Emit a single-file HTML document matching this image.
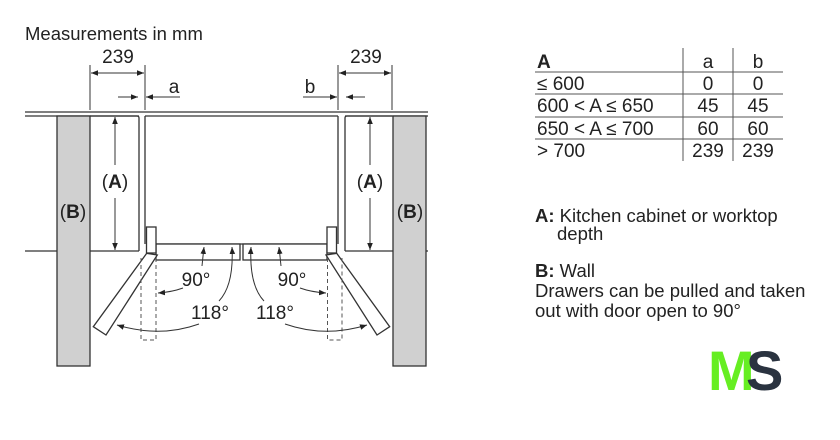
<!DOCTYPE html>
<html><head><meta charset="utf-8"><style>
html,body{margin:0;padding:0;background:#fff;}
svg{display:block;font-family:"Liberation Sans",Arial,sans-serif;}
</style></head><body>
<svg width="840" height="440" viewBox="0 0 840 440" xmlns="http://www.w3.org/2000/svg">
<defs>
<marker id="ar" viewBox="0 0 10 10" refX="10" refY="5" markerWidth="7" markerHeight="7" orient="auto-start-reverse" markerUnits="userSpaceOnUse"><path d="M0,1 L10,5 L0,9 z" fill="#222"/></marker>
</defs>
<rect width="840" height="440" fill="#fff"/>
<text x="25" y="40" font-size="18.5" fill="#222">Measurements in mm</text>
<g stroke="#333" stroke-width="1.3" fill="none">
<line x1="25" y1="112" x2="428" y2="112"/>
<line x1="25" y1="116" x2="139" y2="116"/>
<line x1="345" y1="116" x2="428" y2="116"/>
<line x1="145" y1="116" x2="338" y2="116"/>
<line x1="25" y1="251" x2="139" y2="251"/>
<line x1="345" y1="251" x2="428" y2="251"/>
<rect x="57" y="116" width="33" height="250" fill="#d0d0d0"/>
<rect x="393" y="116" width="33" height="250" fill="#d0d0d0"/>
<path d="M90,116 H137 Q139,116 139,118 V251"/>
<path d="M392,116 H347 Q345,116 345,118 V251"/>
<line x1="145" y1="116" x2="145" y2="244"/>
<line x1="338" y1="116" x2="338" y2="244"/>
<line x1="156" y1="244" x2="327" y2="244"/>
<rect x="156" y="244" width="84" height="16" fill="#fff"/>
<rect x="243" y="244" width="84" height="16" fill="#fff"/>
<rect x="146.5" y="227" width="9.5" height="26" fill="#fff"/>
<rect x="327" y="227" width="9.5" height="26" fill="#fff"/>
<polygon points="146.7,253.3 157.3,255 106,335 93.3,326.7" fill="#fff"/>
<polygon points="336.7,253.3 326,255 377,335 389.7,326.7" fill="#fff"/>
</g>
<g stroke="#555" stroke-width="1" stroke-dasharray="4,3" fill="none">
<path d="M141,258 V340 H156 V258"/>
<path d="M327.5,258 V340 H342 V258"/>
</g>
<g stroke="#333" stroke-width="1" fill="none">
<line x1="90" y1="65" x2="90" y2="110"/>
<line x1="145" y1="65" x2="145" y2="110"/>
<line x1="338" y1="65" x2="338" y2="110"/>
<line x1="392" y1="65" x2="392" y2="110"/>
<line x1="91" y1="73" x2="144" y2="73" marker-start="url(#ar)" marker-end="url(#ar)"/>
<line x1="339" y1="73" x2="391" y2="73" marker-start="url(#ar)" marker-end="url(#ar)"/>
<line x1="118" y1="97" x2="138" y2="97" marker-end="url(#ar)"/>
<line x1="180" y1="97" x2="146" y2="97" marker-end="url(#ar)"/>
<line x1="303" y1="97" x2="337" y2="97" marker-end="url(#ar)"/>
<line x1="365" y1="97" x2="346" y2="97" marker-end="url(#ar)"/>
<line x1="115" y1="117" x2="115" y2="165" marker-start="url(#ar)"/>
<line x1="115" y1="198" x2="115" y2="250" marker-end="url(#ar)"/>
<line x1="370" y1="117" x2="370" y2="165" marker-start="url(#ar)"/>
<line x1="370" y1="198" x2="370" y2="250" marker-end="url(#ar)"/>
<!-- left 90 -->
<path d="M202,266 Q203,256 204,247" marker-end="url(#ar)"/>
<path d="M183,288 Q172,292 158,293" marker-end="url(#ar)"/>
<!-- left 118 -->
<path d="M219,301 Q234,285 232,247" marker-end="url(#ar)"/>
<path d="M199,324 Q160,338 117,325" marker-end="url(#ar)"/>
<!-- right 90 -->
<path d="M281,266 Q280,256 279,247" marker-end="url(#ar)"/>
<path d="M300,288 Q311,292 326,293" marker-end="url(#ar)"/>
<!-- right 118 -->
<path d="M264,301 Q249,285 251,247" marker-end="url(#ar)"/>
<path d="M285,324 Q325,338 367,325" marker-end="url(#ar)"/>
</g>
<g font-size="19" fill="#222">
<text x="118" y="63" text-anchor="middle">239</text>
<text x="366" y="63" text-anchor="middle">239</text>
<text x="174" y="93" text-anchor="middle">a</text>
<text x="310" y="93" text-anchor="middle">b</text>
<rect x="100" y="167" width="30" height="28" fill="#fff"/>
<rect x="355" y="167" width="30" height="28" fill="#fff"/>
<text x="115" y="188" text-anchor="middle">(<tspan font-weight="bold">A</tspan>)</text>
<text x="370" y="188" text-anchor="middle">(<tspan font-weight="bold">A</tspan>)</text>
<text x="73" y="218" text-anchor="middle">(<tspan font-weight="bold">B</tspan>)</text>
<text x="410" y="218" text-anchor="middle">(<tspan font-weight="bold">B</tspan>)</text>
<text x="196" y="286" text-anchor="middle">90°</text>
<text x="292" y="286" text-anchor="middle">90°</text>
<text x="210" y="319" text-anchor="middle">118°</text>
<text x="275" y="319" text-anchor="middle">118°</text>
</g>
<g stroke="#555" stroke-width="1">
<line x1="535" y1="72" x2="783" y2="72"/>
<line x1="535" y1="94" x2="783" y2="94"/>
<line x1="535" y1="117" x2="783" y2="117"/>
<line x1="535" y1="139" x2="783" y2="139"/>
<line x1="683" y1="48" x2="683" y2="161"/>
<line x1="733" y1="48" x2="733" y2="161"/>
</g>
<g font-size="19" fill="#222">
<text x="537" y="68" font-weight="bold">A</text>
<text x="708" y="68" text-anchor="middle">a</text>
<text x="758" y="68" text-anchor="middle">b</text>
<text x="537" y="90">≤ 600</text><text x="708" y="90" text-anchor="middle">0</text><text x="758" y="90" text-anchor="middle">0</text>
<text x="537" y="112">600 &lt; A ≤ 650</text><text x="708" y="112" text-anchor="middle">45</text><text x="758" y="112" text-anchor="middle">45</text>
<text x="537" y="135">650 &lt; A ≤ 700</text><text x="708" y="135" text-anchor="middle">60</text><text x="758" y="135" text-anchor="middle">60</text>
<text x="537" y="157">&gt; 700</text><text x="708" y="157" text-anchor="middle">239</text><text x="758" y="157" text-anchor="middle">239</text>
</g>
<g font-size="18.5" fill="#222">
<text x="535" y="222"><tspan font-weight="bold">A:</tspan> Kitchen cabinet or worktop</text>
<text x="557" y="240">depth</text>
<text x="535" y="277"><tspan font-weight="bold">B:</tspan> Wall</text>
<text x="535" y="297">Drawers can be pulled and taken</text>
<text x="535" y="317">out with door open to 90°</text>
</g>
<text x="708" y="390" font-size="56" font-weight="bold" fill="#66ee22" letter-spacing="-4">M</text>
<text x="746" y="390" font-size="56" font-weight="bold" fill="#2a3340">S</text>
</svg>
</body></html>
